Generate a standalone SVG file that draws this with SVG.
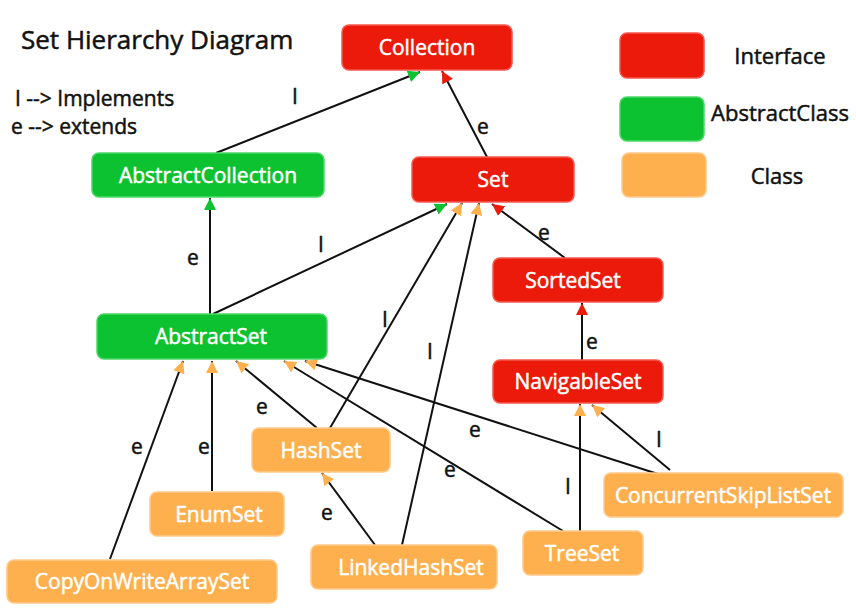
<svg xmlns="http://www.w3.org/2000/svg" width="856" height="609" viewBox="0 0 856 609">
<style>
text{font-family:"Open Sans","Noto Sans",sans-serif;}
.node{stroke-width:1.5;}
.ifc{fill:#EB1A0B;stroke:#F45A4E;}
.abs{fill:#0DC230;stroke:#4DD866;}
.cls{fill:#FEB04E;stroke:#FFC98A;}
.nl{fill:#fff;stroke:#fff;stroke-width:0.5;font-size:21px;text-anchor:middle;}
.el{fill:#111;stroke:#111;stroke-width:0.5;font-size:21px;text-anchor:middle;}
.lg{fill:#111;stroke:#111;stroke-width:0.5;font-size:22px;text-anchor:middle;}
.tt{fill:#111;stroke:#111;stroke-width:0.5;}
.c{stroke:#111;stroke-width:2;fill:none;}
.mr{marker-end:url(#ar);}
.mg{marker-end:url(#ag);}
.mo{marker-end:url(#ao);}
</style>
<defs>
<marker id="ar" viewBox="0 0 10 10" refX="10" refY="5" markerUnits="userSpaceOnUse" markerWidth="12" markerHeight="14" orient="auto"><path d="M0,0 L10,5 L0,10 z" fill="#EB1A0B"/></marker>
<marker id="ag" viewBox="0 0 10 10" refX="10" refY="5" markerUnits="userSpaceOnUse" markerWidth="12" markerHeight="14" orient="auto"><path d="M0,0 L10,5 L0,10 z" fill="#0DC230"/></marker>
<marker id="ao" viewBox="0 0 10 10" refX="10" refY="5" markerUnits="userSpaceOnUse" markerWidth="12" markerHeight="14" orient="auto"><path d="M0,0 L10,5 L0,10 z" fill="#FEB04E"/></marker>
</defs>
<rect width="856" height="609" fill="#fff"/>
<g id="title">
<text x="21" y="49" class="tt" style="font-size:26px">Set Hierarchy Diagram</text>
<text x="15" y="106" class="tt" style="font-size:21px">I --&gt; Implements</text>
<text x="11" y="134" class="tt" style="font-size:21px">e --&gt; extends</text>
</g>
<g id="legend">
<rect x="620" y="33" width="84" height="45" rx="7" class="node ifc"/>
<text x="780" y="64" class="lg">Interface</text>
<rect x="620" y="97" width="84" height="44" rx="7" class="node abs"/>
<text x="780" y="121" class="lg">AbstractClass</text>
<rect x="622" y="153" width="84" height="44" rx="7" class="node cls"/>
<text x="777" y="184" class="lg">Class</text>
</g>
<g id="connectors">
<line x1="110" y1="559" x2="183" y2="361" class="c mo"/>
<line x1="212" y1="491" x2="212" y2="361" class="c mo"/>
<line x1="317" y1="428" x2="236" y2="361" class="c mo"/>
<line x1="330" y1="428" x2="462" y2="203" class="c mo"/>
<line x1="375" y1="545" x2="322" y2="473" class="c mo"/>
<line x1="402" y1="545" x2="479" y2="203" class="c mo"/>
<line x1="563" y1="531" x2="284" y2="361" class="c mo"/>
<line x1="580" y1="531" x2="580" y2="404" class="c mo"/>
<line x1="658" y1="474" x2="305" y2="361" class="c mo"/>
<line x1="670" y1="470" x2="592" y2="405" class="c mo"/>
<line x1="210" y1="314" x2="210" y2="198" class="c mg"/>
<line x1="213" y1="314" x2="447" y2="204" class="c mg"/>
<line x1="216" y1="153" x2="420" y2="72" class="c mg"/>
<line x1="487" y1="157" x2="442" y2="71" class="c mr"/>
<line x1="565" y1="258" x2="492" y2="204" class="c mr"/>
<line x1="582" y1="360" x2="582" y2="303" class="c mr"/>
<text x="295" y="104" class="el">I</text>
<text x="483" y="134" class="el">e</text>
<text x="193" y="265" class="el">e</text>
<text x="321" y="252" class="el">I</text>
<text x="544" y="240" class="el">e</text>
<text x="385" y="327" class="el">I</text>
<text x="430" y="359" class="el">I</text>
<text x="592" y="349" class="el">e</text>
<text x="137" y="454" class="el">e</text>
<text x="204" y="454" class="el">e</text>
<text x="262" y="414" class="el">e</text>
<text x="475" y="437" class="el">e</text>
<text x="450" y="477" class="el">e</text>
<text x="327" y="520" class="el">e</text>
<text x="568" y="494" class="el">I</text>
<text x="659" y="447" class="el">I</text>
</g>
<g id="Collection"><rect x="342" y="25" width="170" height="45" rx="7" class="node ifc"/><text x="427" y="55" class="nl">Collection</text></g>
<g id="Set"><rect x="412" y="157" width="162" height="45" rx="7" class="node ifc"/><text x="493" y="187" class="nl">Set</text></g>
<g id="AbstractCollection"><rect x="92" y="153" width="232" height="44" rx="7" class="node abs"/><text x="208" y="183" class="nl">AbstractCollection</text></g>
<g id="AbstractSet"><rect x="97" y="314" width="230" height="45" rx="7" class="node abs"/><text x="211" y="344" class="nl">AbstractSet</text></g>
<g id="SortedSet"><rect x="493" y="258" width="170" height="44" rx="7" class="node ifc"/><text x="573" y="288" class="nl">SortedSet</text></g>
<g id="NavigableSet"><rect x="493" y="360" width="170" height="43" rx="7" class="node ifc"/><text x="578" y="389" class="nl">NavigableSet</text></g>
<g id="HashSet"><rect x="252" y="428" width="138" height="44" rx="7" class="node cls"/><text x="321" y="458" class="nl">HashSet</text></g>
<g id="EnumSet"><rect x="150" y="492" width="134" height="44" rx="7" class="node cls"/><text x="219" y="522" class="nl">EnumSet</text></g>
<g id="CopyOnWriteArraySet"><rect x="7" y="560" width="270" height="43" rx="7" class="node cls"/><text x="142" y="589" class="nl">CopyOnWriteArraySet</text></g>
<g id="LinkedHashSet"><rect x="311" y="545" width="186" height="44" rx="7" class="node cls"/><text x="411" y="575" class="nl">LinkedHashSet</text></g>
<g id="TreeSet"><rect x="523" y="531" width="120" height="44" rx="7" class="node cls"/><text x="582" y="561" class="nl">TreeSet</text></g>
<g id="ConcurrentSkipListSet"><rect x="604" y="473" width="239" height="44" rx="7" class="node cls"/><text x="723" y="503" class="nl">ConcurrentSkipListSet</text></g>
</svg>
